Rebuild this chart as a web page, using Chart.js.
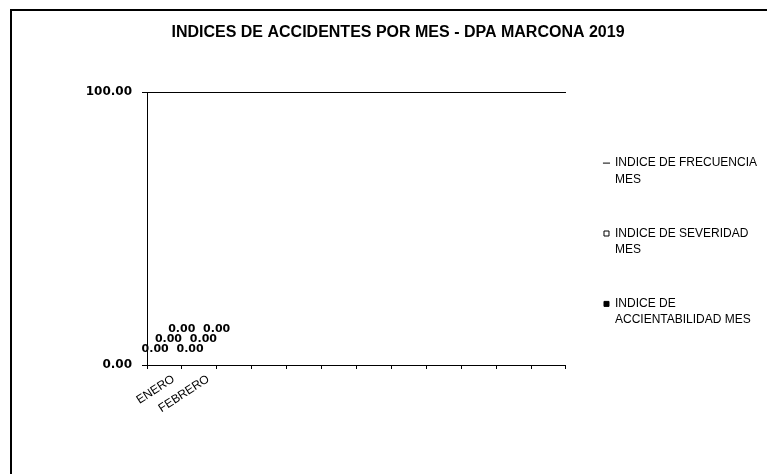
<!DOCTYPE html>
<html>
<head>
  <meta charset="utf-8">
  <title>Indices de accidentes</title>
  <script src="https://cdn.jsdelivr.net/npm/chart.js@4.4.1/dist/chart.umd.min.js"></script>
  <style>
    body { margin: 0; background: #fff; }
    /* marco del grafico (se sale por la derecha y abajo) */
    #marco { position: absolute; left: 10px; top: 9px; width: 800px; height: 500px; border: 2px solid #000; }
    #wrap { position: absolute; left: 0; top: 0; width: 767px; height: 474px; }
  </style>
</head>
<body>
  <div id="marco"></div>
  <div id="wrap"><canvas id="grafico" width="767" height="474"></canvas></div>
  <script>
    // meses (solo hay datos de enero y febrero)
    const meses = ['ENERO', 'FEBRERO', '', '', '', '', '', '', '', '', '', ''];

    // valores por serie
    const frecuencia = [0, 0];
    const severidad = [0, 0];
    const accidentabilidad = [0, 0];

    const nombres = [
      ['INDICE DE FRECUENCIA', 'MES'],
      ['INDICE DE SEVERIDAD', 'MES'],
      ['INDICE DE', 'ACCIENTABILIDAD MES']
    ];
    const marcadores = ['line', 'rect', 'rect'];
    const rellenos = ['#ffffff', '#ffffff', '#000000'];

    // etiquetas "0.00" sobre cada barra
    const etiquetasDatos = {
      id: 'etiquetasDatos',
      afterDatasetsDraw(chart) {
        const ctx = chart.ctx;
        ctx.save();
        ctx.font = 'bold 11px "DejaVu Sans"';
        ctx.fillStyle = '#000';
        ctx.textAlign = 'center';
        ctx.textBaseline = 'bottom';
        chart.data.datasets.forEach((ds, i) => {
          chart.getDatasetMeta(i).data.forEach((bar, j) => {
            if (ds.data[j] == null) return;
            ctx.fillText(ds.data[j].toFixed(2), bar.x + 4 * i, bar.y - 10 - 10 * i);
          });
        });
        ctx.restore();
      }
    };

    const chart = new Chart(document.getElementById('grafico'), {
      type: 'bar',
      data: {
        labels: meses,
        datasets: [frecuencia, severidad, accidentabilidad].map((vals, i) => ({
          label: nombres[i],
          data: vals,
          backgroundColor: rellenos[i],
          borderColor: '#000',
          borderWidth: 1
        }))
      },
      options: {
        responsive: false,
        animation: false,
        layout: { padding: { left: 29, right: 0, top: 0, bottom: 59 } },
        plugins: {
          title: {
            display: true,
            text: 'INDICES DE ACCIDENTES POR MES - DPA MARCONA 2019',
            color: '#000',
            font: { family: 'Liberation Sans', size: 16, weight: 'bold' },
            padding: { top: 23, bottom: 50 }
          },
          legend: {
            position: 'right',
            align: 'center',
            maxWidth: 230,
            title: { display: true, text: '', color: '#000', font: { size: 12 }, padding: { top: 0, bottom: 58 } },
            labels: {
              color: '#000',
              font: { family: 'Liberation Sans', size: 12, lineHeight: 1.35 },
              usePointStyle: true,
              boxWidth: 5,
              boxHeight: 5,
              padding: 38,
              generateLabels(chart) {
                return chart.data.datasets.map((ds, i) => ({
                  text: ds.label,
                  fillStyle: ds.backgroundColor,
                  strokeStyle: '#000',
                  fontColor: '#000',
                  lineWidth: 1,
                  pointStyle: marcadores[i],
                  datasetIndex: i,
                  hidden: false
                }));
              }
            }
          },
          tooltip: { enabled: false }
        },
        scales: {
          x: {
            grid: { display: true, drawOnChartArea: false, color: '#000', tickLength: 4 },
            border: { color: '#000' },
            ticks: {
              color: '#000',
              font: { family: 'Liberation Sans', size: 12 },
              minRotation: 33,
              maxRotation: 33,
              labelOffset: 9,
              autoSkip: false
            },
            afterFit(scale) { scale.height = 50; }
          },
          y: {
            min: 0,
            max: 100,
            grid: { color: '#000', tickLength: 5 },
            border: { color: '#000' },
            ticks: {
              stepSize: 100,
              padding: 10,
              color: '#000',
              font: { family: 'DejaVu Sans', size: 12, weight: 'bold' },
              callback: v => v.toFixed(2)
            },
            afterFit(scale) { scale.width = 118; }
          }
        }
      },
      plugins: [etiquetasDatos]
    });
  </script>
</body>
</html>
